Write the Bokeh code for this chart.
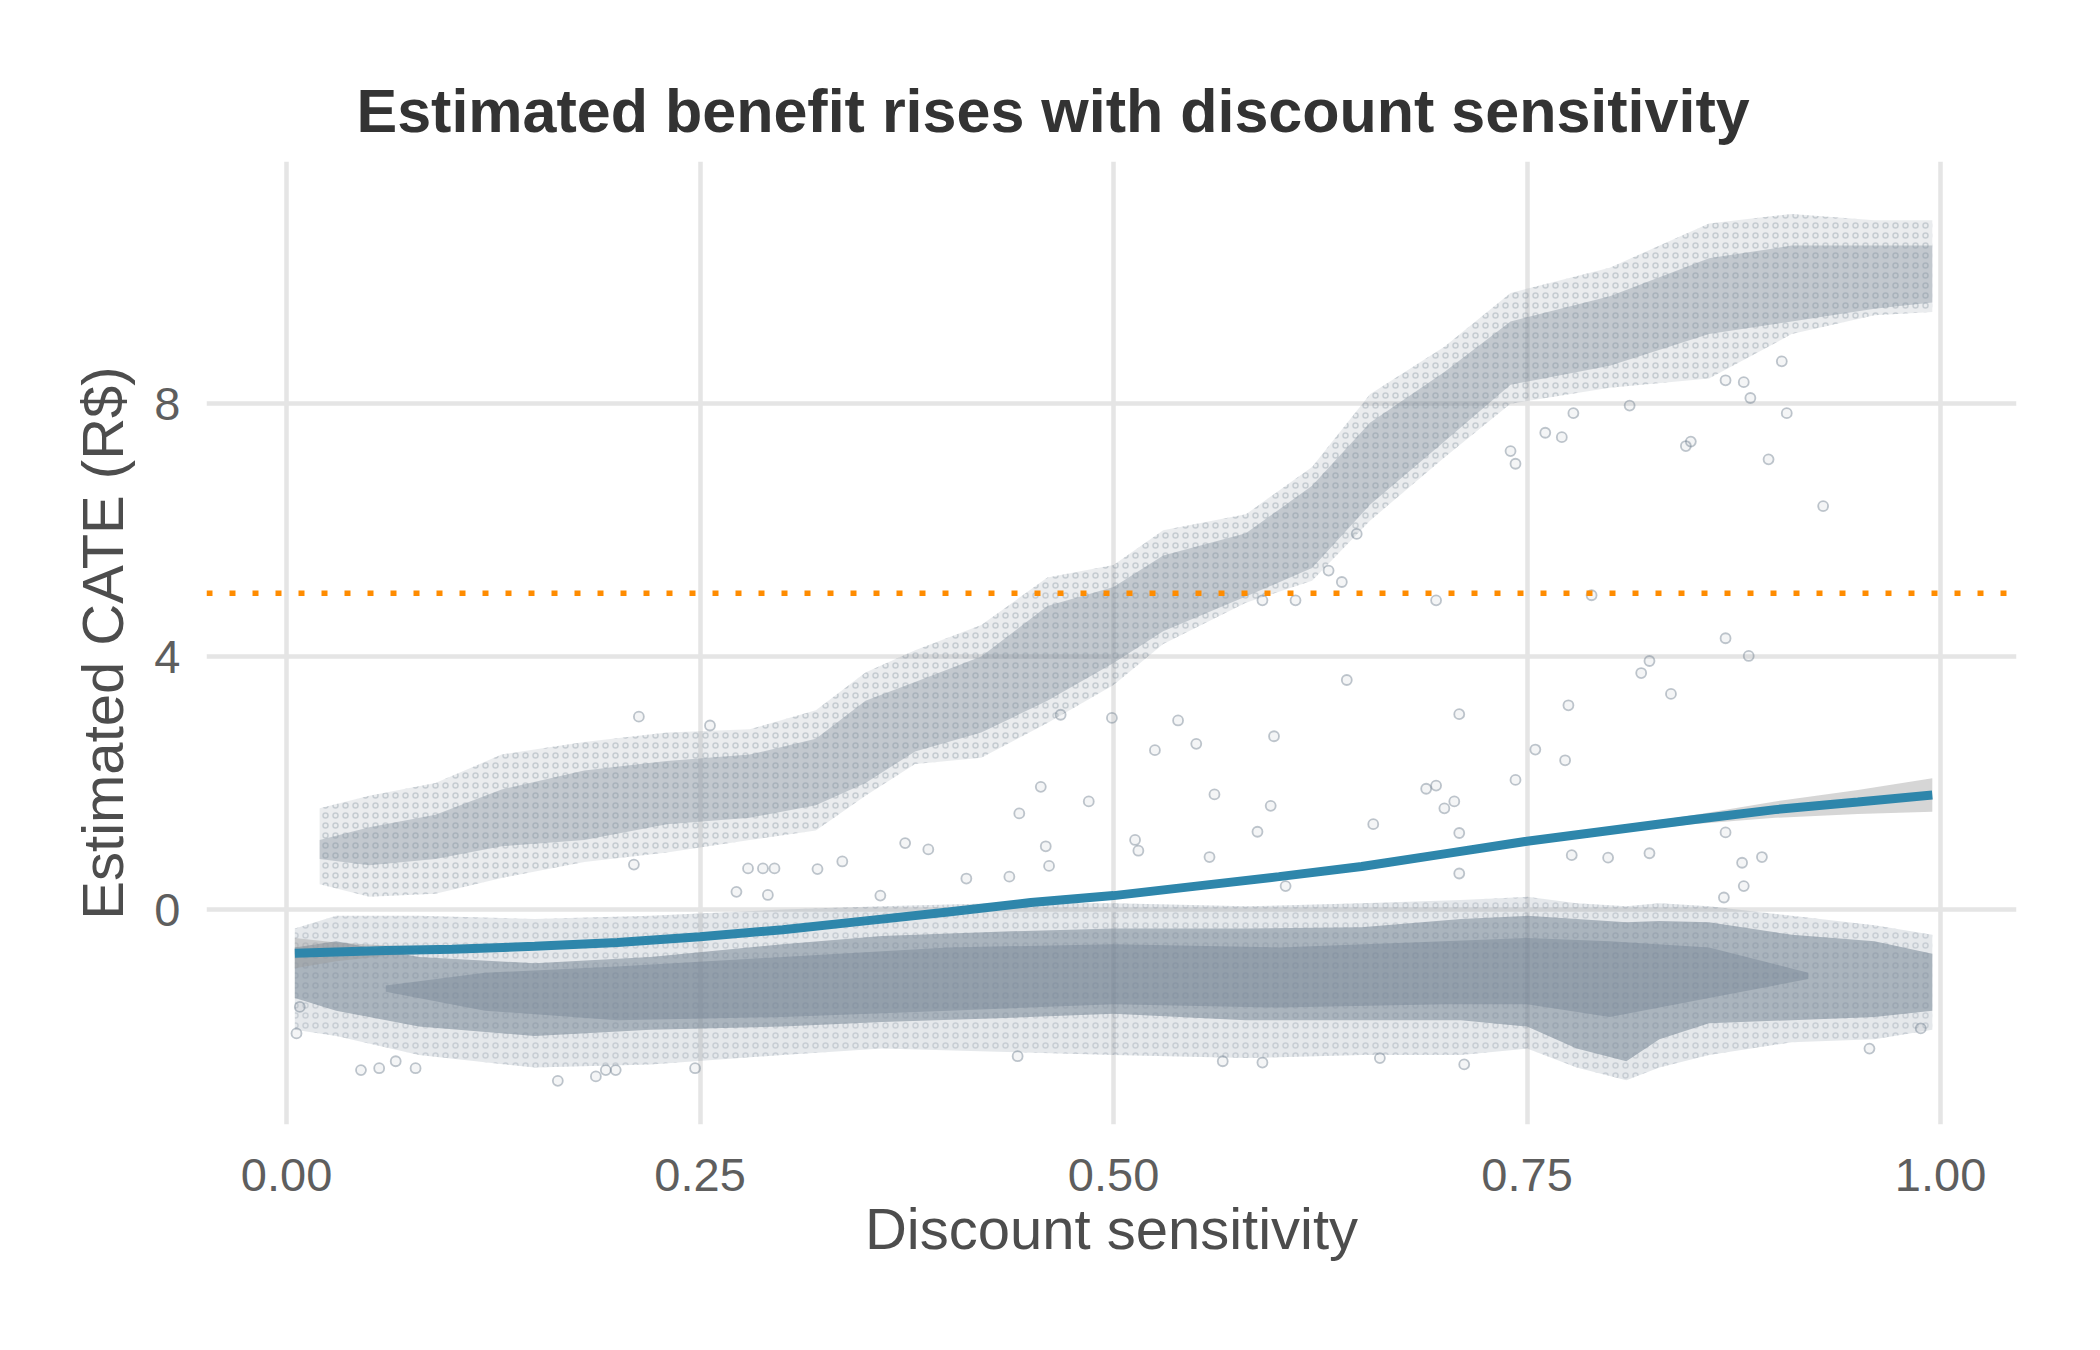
from bokeh.plotting import figure
from bokeh.models import Range1d, FixedTicker, Span
from bokeh.embed import file_html
from bokeh.resources import INLINE

# values

# lower cloud of points (bulk of the customers): envelope per x position
low_x = [0.005, 0.03, 0.08, 0.15, 0.22, 0.30, 0.36, 0.43, 0.50, 0.58,
         0.65, 0.71, 0.75, 0.78, 0.81, 0.83, 0.86, 0.91, 0.96, 0.995]
low_core_top = [-0.6, -0.5, -0.75, -0.85, -0.75, -0.55, -0.42, -0.35, -0.3, -0.3,
                -0.28, -0.15, -0.1, -0.15, -0.2, -0.18, -0.2, -0.4, -0.5, -0.7]
low_core_bot = [-1.4, -1.6, -1.85, -2.0, -1.9, -1.85, -1.78, -1.72, -1.65, -1.75,
                -1.75, -1.75, -1.85, -2.2, -2.4, -2.05, -1.8, -1.75, -1.7, -1.6]
low_outer_top = [-0.3, -0.1, -0.1, -0.15, -0.1, 0.0, 0.05, 0.1, 0.1, 0.05,
                 0.1, 0.15, 0.2, 0.1, 0.05, 0.1, 0.05, -0.1, -0.25, -0.4]
low_outer_bot = [-1.9, -2.0, -2.3, -2.5, -2.45, -2.3, -2.2, -2.25, -2.3, -2.35,
                 -2.3, -2.3, -2.2, -2.5, -2.7, -2.5, -2.3, -2.1, -2.05, -1.9]
# densest part of the lower cloud
dense_x = [0.06, 0.12, 0.20, 0.30, 0.40, 0.50, 0.60, 0.70, 0.75, 0.80, 0.86, 0.92]
dense_top = [-1.2, -1.0, -0.9, -0.75, -0.6, -0.55, -0.6, -0.5, -0.45, -0.5, -0.6, -1.0]
dense_bot = [-1.3, -1.6, -1.75, -1.7, -1.6, -1.5, -1.55, -1.5, -1.5, -1.7, -1.4, -1.1]

# upper cloud of points (discount-sensitive customers)
up_x = [0.02, 0.05, 0.09, 0.13, 0.18, 0.23, 0.28, 0.32, 0.35, 0.38, 0.42, 0.46,
        0.50, 0.53, 0.58, 0.62, 0.655, 0.70, 0.74, 0.80, 0.86, 0.91, 0.96, 0.995]
up_core_top = [1.1, 1.3, 1.5, 1.9, 2.2, 2.35, 2.45, 2.7, 3.3, 3.6, 4.0, 4.8,
               5.1, 5.6, 5.95, 6.7, 7.7, 8.5, 9.3, 9.7, 10.3, 10.5, 10.5, 10.5]
up_core_bot = [0.8, 0.7, 0.8, 1.0, 1.1, 1.35, 1.45, 1.65, 2.0, 2.5, 2.8, 3.3,
               3.9, 4.4, 4.95, 5.4, 6.4, 7.4, 8.3, 8.6, 9.1, 9.3, 9.5, 9.6]
up_outer_top = [1.6, 1.8, 2.0, 2.45, 2.65, 2.8, 2.85, 3.15, 3.75, 4.1, 4.5, 5.25,
                5.45, 6.0, 6.25, 7.0, 8.15, 8.9, 9.75, 10.15, 10.85, 11.0, 10.9, 10.9]
up_outer_bot = [0.4, 0.2, 0.25, 0.5, 0.75, 0.9, 1.1, 1.25, 1.8, 2.3, 2.4, 2.95,
                3.55, 4.2, 4.85, 5.2, 6.15, 7.15, 8.0, 8.25, 8.4, 9.1, 9.4, 9.45]

# isolated points between and around the two clouds
out_x = [0.456, 0.485, 0.443, 0.374, 0.388, 0.459, 0.461, 0.411, 0.437, 0.525,
         0.539, 0.550, 0.499, 0.468, 0.561, 0.595, 0.597, 0.587, 0.513, 0.515,
         0.558, 0.604, 0.641, 0.709, 0.657, 0.689, 0.695, 0.700, 0.706, 0.709,
         0.709, 0.743, 0.870, 0.884, 0.819, 0.824, 0.837, 0.775, 0.755, 0.773,
         0.870, 0.777, 0.799, 0.824, 0.880, 0.892, 0.881, 0.869, 0.789, 0.929,
         0.896, 0.846, 0.849, 0.761, 0.771, 0.740, 0.743, 0.907, 0.885, 0.870,
         0.881, 0.778, 0.812, 0.904, 0.210, 0.279, 0.288, 0.295, 0.321, 0.336,
         0.272, 0.291, 0.359, 0.213, 0.256, 0.630, 0.638, 0.647, 0.695, 0.590,
         0.610, 0.045, 0.056, 0.066, 0.078, 0.164, 0.187, 0.193, 0.199, 0.247,
         0.006, 0.008, 0.957, 0.988, 0.442, 0.566, 0.590, 0.712, 0.661]
out_y = [1.94, 1.71, 1.52, 1.05, 0.95, 1.00, 0.69, 0.49, 0.52, 2.52,
         2.99, 2.62, 3.03, 3.08, 1.82, 1.64, 2.74, 1.23, 1.10, 0.93,
         0.83, 0.37, 3.63, 3.09, 1.35, 1.91, 1.96, 1.60, 1.71, 1.21,
         0.57, 2.05, 4.29, 4.01, 3.74, 3.93, 3.41, 3.23, 2.53, 2.36,
         1.22, 0.86, 0.82, 0.89, 0.74, 0.83, 0.37, 0.19, 4.97, 6.38,
         7.12, 7.33, 7.40, 7.54, 7.47, 7.25, 7.05, 7.85, 8.09, 8.37,
         8.34, 7.85, 7.97, 8.67, 0.71, 0.65, 0.65, 0.65, 0.64, 0.76,
         0.28, 0.23, 0.22, 3.05, 2.91, 5.36, 5.18, 5.94, 4.89, 4.89,
         4.89, -2.54, -2.51, -2.40, -2.51, -2.71, -2.64, -2.54, -2.54, -2.51,
         -1.96, -1.54, -2.20, -1.88, -2.32, -2.40, -2.42, -2.45, -2.35]

# smoothed trend with its confidence ribbon
fit_x = [0.005, 0.03, 0.06, 0.10, 0.15, 0.20, 0.25, 0.30, 0.35, 0.40, 0.45,
         0.50, 0.55, 0.60, 0.65, 0.70, 0.75, 0.80, 0.85, 0.90, 0.95, 0.995]
fit_y = [-0.69, -0.67, -0.65, -0.63, -0.58, -0.52, -0.43, -0.32, -0.18, -0.04, 0.11,
         0.22, 0.37, 0.52, 0.68, 0.88, 1.08, 1.25, 1.42, 1.58, 1.70, 1.81]
fit_se = [0.24, 0.15, 0.08, 0.05, 0.05, 0.04, 0.04, 0.04, 0.04, 0.04, 0.04,
          0.04, 0.04, 0.04, 0.04, 0.04, 0.04, 0.05, 0.07, 0.13, 0.19, 0.265]

threshold = 5

x_ticks = [0, 0.25, 0.5, 0.75, 1]
x_tick_labels = ["0.00", "0.25", "0.50", "0.75", "1.00"]
y_ticks = [0, 4, 8]
y_tick_labels = ["0", "4", "8"]

POINT = "#708090"
FONT = "Liberation Sans"

p = figure(width=2084, height=1334, output_backend="svg", toolbar_location=None,
           x_range=Range1d(-0.0484, 1.0459), y_range=Range1d(-3.40, 11.83),
           min_border_left=206, min_border_right=68,
           min_border_top=161, min_border_bottom=210)
p.background_fill_color = "white"
p.border_fill_color = "white"
p.outline_line_color = None

# point clouds
p.varea(x=low_x, y1=low_outer_bot, y2=low_outer_top, fill_color=POINT, fill_alpha=0.18,
        hatch_pattern="ring", hatch_color=POINT, hatch_alpha=0.25,
        hatch_scale=10, hatch_weight=1.5)
p.varea(x=low_x, y1=low_core_bot, y2=low_core_top, fill_color=POINT, fill_alpha=0.5)
p.varea(x=dense_x, y1=dense_bot, y2=dense_top, fill_color=POINT, fill_alpha=0.4)
p.varea(x=up_x, y1=up_outer_bot, y2=up_outer_top, fill_color=POINT, fill_alpha=0.15,
        hatch_pattern="ring", hatch_color=POINT, hatch_alpha=0.3,
        hatch_scale=10, hatch_weight=1.5)
p.varea(x=up_x, y1=up_core_bot, y2=up_core_top, fill_color=POINT, fill_alpha=0.33)
p.scatter(out_x, out_y, size=10, marker="circle", fill_color=POINT, fill_alpha=0.08,
          line_color=POINT, line_alpha=0.45, line_width=1.8)

# smooth + ribbon
lo = [y - s for y, s in zip(fit_y, fit_se)]
hi = [y + s for y, s in zip(fit_y, fit_se)]
p.varea(x=fit_x, y1=lo, y2=hi, fill_color="#999999", fill_alpha=0.4)
p.line(fit_x, fit_y, line_color="#2E86AB", line_width=9)

p.add_layout(Span(location=threshold, dimension="width", line_color="#FF8C00",
                  line_width=5.5, line_dash="6 17"))

# grid
p.xgrid.ticker = FixedTicker(ticks=x_ticks)
p.ygrid.ticker = FixedTicker(ticks=y_ticks)
p.grid.grid_line_color = "#E5E5E5"
p.grid.grid_line_width = 4.5

# axes
p.xaxis.ticker = FixedTicker(ticks=x_ticks)
p.xaxis.major_label_overrides = dict(zip(x_ticks, x_tick_labels))
p.yaxis.ticker = FixedTicker(ticks=y_ticks)
p.yaxis.major_label_overrides = dict(zip(y_ticks, y_tick_labels))
for ax in (p.xaxis, p.yaxis):
    ax.axis_line_color = None
    ax.major_tick_line_color = None
    ax.minor_tick_line_color = None
    ax.major_tick_out = 0
    ax.major_tick_in = 0
    ax.minor_tick_out = 0
    ax.major_label_text_font = FONT
    ax.major_label_text_font_size = "47px"
    ax.major_label_text_color = "#5E5E5E"
    ax.axis_label_text_font = FONT
    ax.axis_label_text_font_size = "58px"
    ax.axis_label_text_font_style = "normal"
    ax.axis_label_text_color = "#4D4D4D"
p.xaxis.axis_label = "Discount sensitivity"
p.yaxis.axis_label = "Estimated CATE (R$)"
p.xaxis.major_label_standoff = 34
p.xaxis.axis_label_standoff = 2
p.yaxis.major_label_standoff = 26
p.yaxis.axis_label_standoff = 16

# title
p.title.text = "Estimated benefit rises with discount sensitivity"
p.title.text_font = FONT
p.title.text_font_size = "61px"
p.title.text_font_style = "bold"
p.title.text_color = "#333333"
p.title.align = "left"
p.title.offset = 150
p.title.standoff = 34

open("out.html", "w").write(file_html(p, INLINE))
